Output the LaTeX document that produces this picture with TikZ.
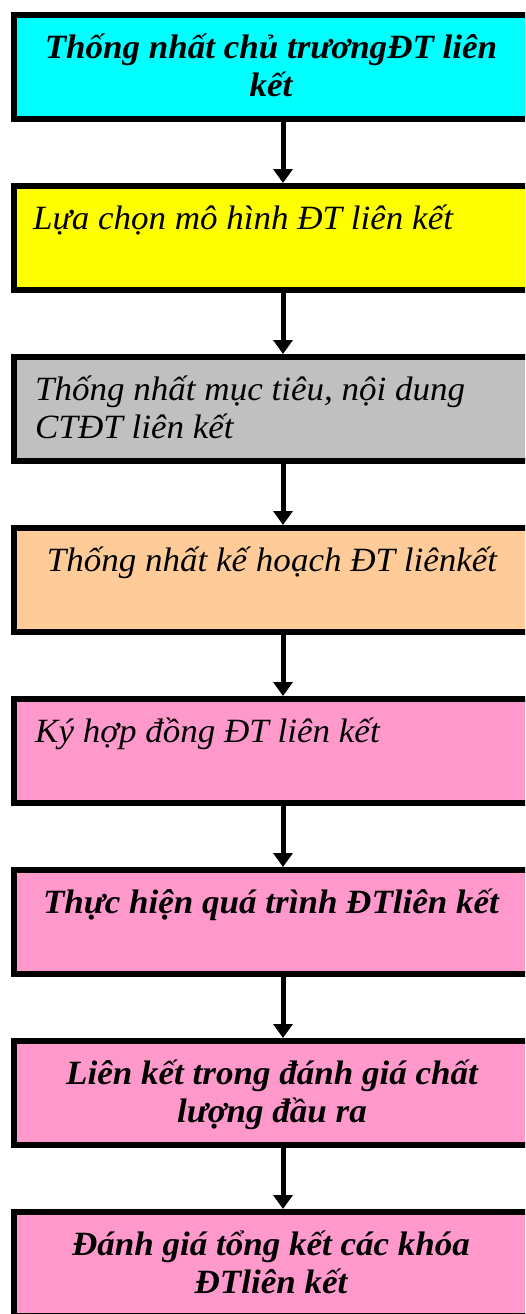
\documentclass[tikz,border=0pt]{standalone}
\usepackage{fontspec}
\setmainfont[FakeStretch=1.03]{Liberation Serif}
\usetikzlibrary{arrows.meta}
\definecolor{cCyan}{HTML}{00FFFF}
\definecolor{cYellow}{HTML}{FFFF00}
\definecolor{cGray}{HTML}{C0C0C0}
\definecolor{cPeach}{HTML}{FFCC99}
\definecolor{cPink}{HTML}{FF99CC}
\begin{document}
\begin{tikzpicture}[x=1pt,y=1pt,
  box/.style={draw=black, line width=6pt, minimum width=526pt, minimum height=104pt,
    anchor=north west, inner sep=0pt, outer sep=0pt},
  arr/.style={line width=5pt, -{Triangle[length=14pt,width=19pt]}, shorten >=3pt},
  reg/.style={font=\fontsize{34}{38}\selectfont\itshape, anchor=base west, inner sep=0pt, align=left},
  bld/.style={font=\fontsize{34}{38}\selectfont\bfseries\itshape, anchor=base, inner sep=0pt, align=center}]
\useasboundingbox (0,0) rectangle (525,-1314);
\clip (0,0) rectangle (525,-1314);
\node[box, fill=cCyan]   (b1) at (14,-15)   {};
\node[box, fill=cYellow] (b2) at (14,-186)  {};
\node[box, fill=cGray]   (b3) at (14,-357)  {};
\node[box, fill=cPeach]  (b4) at (14,-528)  {};
\node[box, fill=cPink]   (b5) at (14,-699)  {};
\node[box, fill=cPink]   (b6) at (14,-870)  {};
\node[box, fill=cPink]   (b7) at (14,-1041) {};
\node[box, fill=cPink]   (b8) at (14,-1212) {};
\foreach \a/\b in {b1/b2,b2/b3,b3/b4,b4/b5,b5/b6,b6/b7,b7/b8}
  \draw[arr] (283,0 |- \a.south) -- (283,0 |- \b.north);
\node[bld] (t1) at (271,-96) {Thống nhất chủ trươngĐT liên\\kết};
\node[reg] (t2) at (33,-229) {Lựa chọn mô hình ĐT liên kết};
\node[reg] (t3) at (35,-438) {Thống nhất mục tiêu, nội dung\\CTĐT liên kết};
\node[reg, anchor=base] (t4) at (272,-571) {Thống nhất kế hoạch ĐT liênkết};
\node[reg] (t5) at (35,-742) {Ký hợp đồng ĐT liên kết};
\node[bld] (t6) at (271,-913) {Thực hiện quá trình ĐTliên kết};
\node[bld] (t7) at (272,-1122) {Liên kết trong đánh giá chất\\lượng đầu ra};
\node[bld] (t8) at (271,-1293) {Đánh giá tổng kết các khóa\\ĐTliên kết};
\end{tikzpicture}
\end{document}
